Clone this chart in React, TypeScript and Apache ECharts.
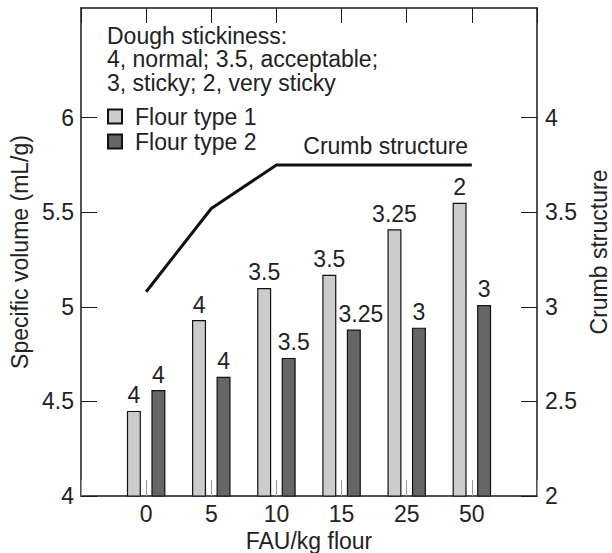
import React, { useEffect, useRef } from 'react';
import * as echarts from 'echarts';

const fauLevels = ['0', '5', '10', '15', '25', '50'];
const flour1Volume = [4.45, 4.93, 5.1, 5.17, 5.41, 5.55];
const flour2Volume = [4.56, 4.63, 4.73, 4.88, 4.89, 5.01];
const flour1Stickiness = ['4', '4', '3.5', '3.5', '3.25', '2'];
const flour2Stickiness = ['4', '4', '3.5', '3.25', '3', '3'];
const crumbStructure = [3.08, 3.52, 3.75, 3.75, 3.75, 3.75];
const volumeTicks = [4, 4.5, 5, 5.5, 6];
const crumbTicks = [2, 2.5, 3, 3.5, 4];
const seriesNames = ['Flour type 1', 'Flour type 2'];

const FONT = 'Liberation Sans';
const TXT = '#222';
const AX = '#1a1a1a';

export default function App() {
  const ref = useRef<HTMLDivElement>(null);
  useEffect(() => {
    if (!ref.current) return;
    document.body.style.margin = '0';
    const chart = echarts.init(ref.current, null, { renderer: 'svg' });
    const cats = ['', ...fauLevels, ''];
    const pad = (arr: any[]) => ['-', ...arr, '-'];
    const txt = { fontFamily: FONT, fontSize: 23, color: TXT, fontWeight: 'normal' as const };

    const bar1 = pad(flour1Volume);
    const bar2 = pad(
      flour2Volume.map((v, i) => ({
        value: v,
        label: { offset: i === 2 ? [5, 0] : i === 3 ? [7, 0] : [0, 0] },
      }))
    );
    const line = pad(
      crumbStructure.map((v, i) =>
        i === 4
          ? {
              value: v,
              label: {
                show: true,
                position: 'top',
                distance: 7,
                offset: [-21, 0],
                formatter: 'Crumb structure',
                ...txt,
              },
            }
          : v
      )
    );

    const option: any = {
      animation: false,
      textStyle: { fontFamily: FONT },
      title: {
        text: 'Dough stickiness:\n4, normal; 3.5, acceptable;\n3, sticky; 2, very sticky',
        left: 107,
        top: 24,
        padding: 0,
        textStyle: { ...txt, lineHeight: 23.5 },
      },
      legend: {
        orient: 'vertical',
        left: 107,
        top: 105,
        padding: 0,
        itemWidth: 14,
        itemHeight: 14,
        itemGap: 2,
        icon: 'rect',
        data: seriesNames,
        textStyle: { ...txt, padding: [0, 0, 0, 8] },
      },
      grid: { left: 81, right: 75, top: 8, bottom: 57, containLabel: false, outerBoundsMode: 'none' },
      xAxis: [
        {
          type: 'category',
          data: cats,
          boundaryGap: false,
          position: 'bottom',
          axisLine: { lineStyle: { color: AX, width: 1.5 } },
          axisTick: { inside: true, length: 16, interval: 0, lineStyle: { color: '#999', width: 1 } },
          axisLabel: { interval: 0, margin: 6, ...txt },
          splitLine: { show: false },
          name: 'FAU/kg flour',
          nameLocation: 'middle',
          nameGap: 30,
          nameTextStyle: txt,
        },
        {
          type: 'category',
          data: cats,
          boundaryGap: false,
          position: 'top',
          axisLine: { lineStyle: { color: AX, width: 1.5 } },
          axisTick: { inside: true, length: 15, interval: 0, lineStyle: { color: AX, width: 1 } },
          axisLabel: { show: false },
          splitLine: { show: false },
        },
      ],
      yAxis: [
        {
          type: 'value',
          min: 4,
          max: 6.58,
          interval: 0.5,
          position: 'left',
          axisLine: { show: true, lineStyle: { color: AX, width: 1.5 } },
          axisTick: { show: true, inside: true, length: 16, customValues: volumeTicks, lineStyle: { color: AX, width: 1 } },
          axisLabel: { customValues: volumeTicks, margin: 7, ...txt, formatter: (v: number) => String(v) },
          splitLine: { show: false },
          name: 'Specific volume (mL/g)',
          nameLocation: 'middle',
          nameGap: 48,
          nameTextStyle: txt,
        },
        {
          type: 'value',
          min: 2,
          max: 4.58,
          interval: 0.5,
          position: 'right',
          axisLine: { show: true, lineStyle: { color: AX, width: 1.5 } },
          axisTick: { show: true, inside: true, length: 16, customValues: crumbTicks, lineStyle: { color: AX, width: 1 } },
          axisLabel: { customValues: crumbTicks, margin: 8, ...txt, formatter: (v: number) => String(v) },
          splitLine: { show: false },
          name: 'Crumb structure',
          nameLocation: 'middle',
          nameGap: 50,
          nameTextStyle: txt,
        },
      ],
      series: [
        {
          name: seriesNames[0],
          type: 'bar',
          data: bar1,
          barWidth: 14,
          barGap: '75%',
          itemStyle: { color: '#cccccc', borderColor: '#111', borderWidth: 1.2 },
          label: {
            show: true,
            position: 'top',
            distance: 4,
            ...txt,
            formatter: (p: any) => flour1Stickiness[p.dataIndex - 1],
          },
        },
        {
          name: seriesNames[1],
          type: 'bar',
          data: bar2,
          barWidth: 14,
          barGap: '75%',
          itemStyle: { color: '#666666', borderColor: '#111', borderWidth: 1.2 },
          label: {
            show: true,
            position: 'top',
            distance: 4,
            ...txt,
            formatter: (p: any) => flour2Stickiness[p.dataIndex - 1],
          },
        },
        {
          name: 'Crumb structure',
          type: 'line',
          yAxisIndex: 1,
          data: line,
          symbol: 'circle',
          symbolSize: 0,
          showSymbol: true,
          lineStyle: { color: '#111', width: 3 },
          itemStyle: { color: '#111' },
          label: { show: false },
        },
      ],
    };
    chart.setOption(option);
    return () => chart.dispose();
  }, []);
  return <div ref={ref} style={{ width: 612, height: 553 }} />;
}
